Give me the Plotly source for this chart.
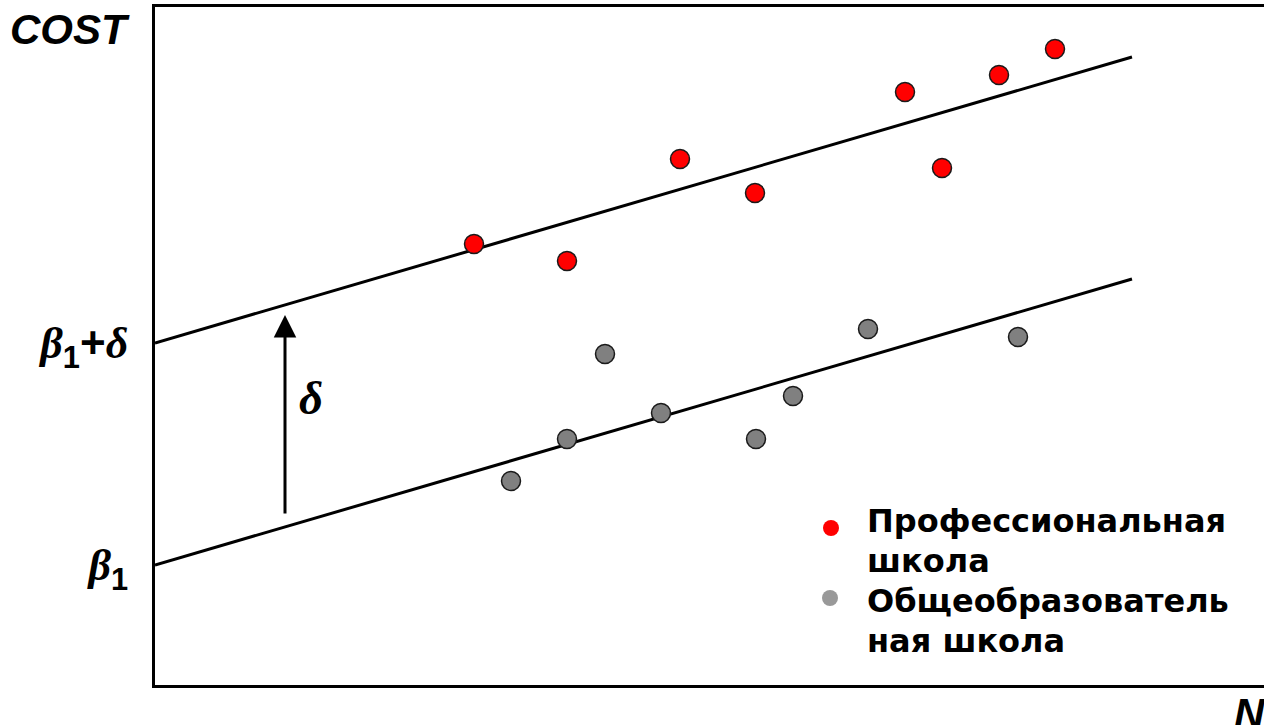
import plotly.graph_objects as go

# ---- data (arbitrary units: N on x, COST on y) ----
prof_n = [31.9, 41.2, 52.5, 60.0, 75.0, 78.7, 84.4, 90.0]
prof_cost = [44.1, 42.4, 52.6, 49.2, 59.3, 51.7, 61.0, 63.6]

gen_n = [35.6, 41.2, 45.0, 50.6, 60.1, 63.8, 71.3, 86.3]
gen_cost = [20.4, 24.6, 33.1, 27.2, 24.6, 28.9, 35.6, 34.8]

line_n = [0.0, 97.7]
upper_cost = [34.2, 62.8]   # beta1 + delta line
lower_cost = [12.0, 40.6]   # beta1 line

arrow_n = 13.0
arrow_from = 17.0
arrow_to = 37.0

legend_labels = ["Профессиональная<br>школа", "Общеобразователь<br>ная школа"]

# ---- geometry helpers (figure pixels -> paper coords) ----
W, H = 1264, 725
ML, MR, MT, MB = 155, 0, 7, 40
PW, PH = W - ML - MR, H - MT - MB


def px(x):
    return (x - ML) / PW


def py(y):
    return (H - MB - y) / PH


SERIF = "Liberation Serif"
SANS = "Liberation Sans"
LEG = "DejaVu Sans"

fig = go.Figure()

fig.add_trace(go.Scatter(x=line_n, y=upper_cost, mode="lines",
                         line=dict(color="black", width=3), hoverinfo="skip"))
fig.add_trace(go.Scatter(x=line_n, y=lower_cost, mode="lines",
                         line=dict(color="black", width=3), hoverinfo="skip"))

fig.add_trace(go.Scatter(x=prof_n, y=prof_cost, mode="markers",
                         marker=dict(size=19, color="#ff0000",
                                     line=dict(color="#1a1a1a", width=1.5))))
fig.add_trace(go.Scatter(x=gen_n, y=gen_cost, mode="markers",
                         marker=dict(size=19, color="#808080",
                                     line=dict(color="#1a1a1a", width=1.5))))

tick_b1 = ('<b><i>β</i></b><sub><span style="font-family:%s"><b>1</b></span></sub>' % SANS)
tick_b1d = tick_b1 + ('<span style="font-family:%s"><b>+</b></span><b><i>δ</i></b>' % SANS)

annotations = [
    # arrow for delta
    dict(x=arrow_n, y=arrow_to, ax=arrow_n, ay=arrow_from, xref="x", yref="y",
         axref="x", ayref="y", showarrow=True, arrowhead=2, arrowsize=1.5,
         arrowwidth=3, arrowcolor="black", text=""),
    dict(x=px(297), y=py(398), xref="paper", yref="paper", xanchor="left",
         yanchor="middle", text="<b><i>δ</i></b>", showarrow=False,
         font=dict(family=SERIF, size=47, color="black")),
    dict(x=px(8), y=py(30), xref="paper", yref="paper", xanchor="left",
         yanchor="middle", text="<b><i>COST</i></b>", showarrow=False,
         font=dict(family=SANS, size=42, color="black")),
    dict(x=px(1232), y=py(688), xref="paper", yref="paper", xanchor="left",
         yanchor="top", text="<b><i>N</i></b>", showarrow=False,
         font=dict(family=SANS, size=42, color="black")),
]

legend_lines = [legend_labels[0].split("<br>"), legend_labels[1].split("<br>")]
line_y = [[521, 561], [601, 641]]
for lines, ys in zip(legend_lines, line_y):
    for t, yy in zip(lines, ys):
        annotations.append(dict(x=px(865), y=py(yy), xref="paper", yref="paper",
                                xanchor="left", yanchor="middle", showarrow=False,
                                text="<b>%s</b>" % t,
                                font=dict(family=LEG, size=32, color="black")))

shapes = []
for (cx, cy, col) in [(831, 528, "#ff0000"), (830, 598, "#999999")]:
    r = 8
    shapes.append(dict(type="circle", xref="paper", yref="paper",
                       x0=px(cx - r), x1=px(cx + r), y0=py(cy + r), y1=py(cy - r),
                       fillcolor=col, line=dict(width=0)))

fig.update_layout(
    width=W, height=H,
    margin=dict(l=ML, r=MR, t=MT, b=MB, autoexpand=False),
    paper_bgcolor="white", plot_bgcolor="white",
    showlegend=False,
    xaxis=dict(range=[0, PW / 10], showline=True, linewidth=3, linecolor="black",
               mirror=True, showgrid=False, zeroline=False, showticklabels=False,
               ticks="", automargin=False),
    yaxis=dict(range=[0, PH / 10], showline=True, linewidth=3, linecolor="black",
               mirror=False, showgrid=False, zeroline=False, ticks="",
               tickvals=[lower_cost[0], upper_cost[0]], ticktext=[tick_b1, tick_b1d],
               tickfont=dict(family=SERIF, size=44, color="black"),
               ticklabelstandoff=15, automargin=False),
    annotations=annotations,
    shapes=shapes,
)

fig.write_html("out.html", config={"displayModeBar": False},
               post_script="document.body.style.margin='0px';")
